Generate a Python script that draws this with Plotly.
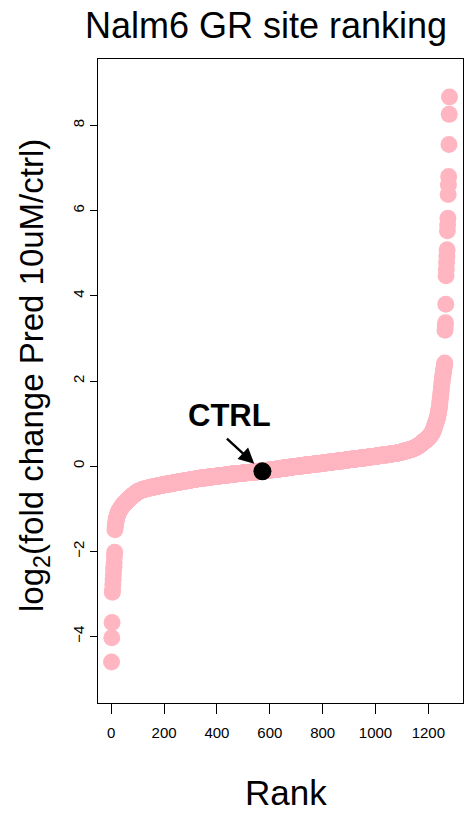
import plotly.graph_objects as go

# Sorted log2 fold changes (Pred 10uM / ctrl) of the Nalm6 GR sites, rank 1 = lowest
low_tail = [-4.60, -4.03, -3.67, -2.96, -2.90, -2.79, -2.66, -2.55, -2.44,
            -2.37, -2.26, -2.12, -2.02]
low_shoulder = [-1.49, -1.43, -1.38, -1.32, -1.29, -1.25, -1.22, -1.20, -1.18,
                -1.16, -1.14, -1.12, -1.10, -1.08, -1.07, -1.06, -1.05, -1.04,
                -1.03, -1.02, -1.01]

# Bulk of the sites binned at 0.01: number of sites at each value from -1.00 to 0.79
bulk_lfc = [round(-1.00 + 0.01 * i, 2) for i in range(180)]
bulk_sites = [
    1, 1, 1, 1, 1, 1, 1, 1, 1, 2, 1, 2, 1, 2, 1, 2, 1, 2, 2, 1, 2, 2, 1, 2, 2, 1, 2,
    2, 2, 2, 2, 2, 2, 2, 2, 2, 2, 2, 2, 3, 3, 3,
    4, 4, 5, 5, 5, 6, 6,
    7, 7, 7, 8, 8, 8, 8, 7,
    9, 9, 9, 9, 9, 9, 9, 9, 9, 9, 9, 9, 9, 9,
    12, 12, 12, 12, 13, 12, 13, 12, 13, 13,
    15, 15, 15, 15, 16, 15, 15, 16,
    12, 12, 12, 12, 12, 11, 12, 12, 11, 12, 11,
    13, 13, 13, 13, 13, 13, 13, 13, 13, 12,
    12, 13, 12, 13, 12, 12, 13, 12, 12, 13,
    12, 12, 12, 11, 12, 11, 12, 11, 11, 11, 11,
    7, 7, 6, 6, 6, 6, 6, 5, 5, 5, 4,
    4, 3, 3, 3, 3, 3, 2, 2, 2, 2, 2, 2, 2, 2, 2,
    2, 2, 2, 2, 2, 2, 2, 2, 1, 2, 1,
    2, 1, 2, 1, 1, 1, 2, 1, 1, 1, 1, 1,
]

high_shoulder = [0.80, 0.82, 0.83, 0.85, 0.87, 0.88, 0.90, 0.92, 0.94, 0.96,
                 0.98, 1.00, 1.02, 1.04, 1.06, 1.07, 1.09, 1.11, 1.13, 1.15,
                 1.18, 1.22, 1.25, 1.29, 1.32, 1.36, 1.40, 1.46, 1.52, 1.58,
                 1.63, 1.69, 1.75, 1.81, 1.87, 1.93, 1.98, 2.04, 2.08, 2.12,
                 2.17, 2.21, 2.25, 2.29, 2.34, 2.38, 2.42]
high_tail = [3.19, 3.28, 3.37, 3.80, 4.47, 4.62, 4.78, 4.93, 5.08, 5.53, 5.67,
             5.82, 6.38, 6.60, 6.80, 7.55, 8.26, 8.67]

ctrl_rank = 572
ctrl_lfc = -0.12

x_ticks = [0, 200, 400, 600, 800, 1000, 1200]
y_ticks = [-4, -2, 0, 2, 4, 6, 8]

# assemble the ranked values
lfc = list(low_tail) + list(low_shoulder)
for v, c in zip(bulk_lfc, bulk_sites):
    lfc += [v] * c
lfc += high_shoulder + high_tail
rank = list(range(1, len(lfc) + 1))

n = len(lfc)
pad_x = 0.04 * (n - 1)
x_range = [1 - pad_x, n + pad_x]
y_range = [-5.56, 9.56]

W, H = 466, 815
L, R, T, B = 98, 3, 59, 112
PW, PH = W - L - R, H - T - B


def px(xp, yp):
    """pixel position in the page -> paper coordinates"""
    return (xp - L) / PW, (H - B - yp) / PH


FONT = "Liberation Sans, Arial, Helvetica, sans-serif"

fig = go.Figure()
fig.add_trace(go.Scatter(
    x=rank, y=lfc, mode="markers",
    marker=dict(color="#FFB6C1", size=17, line=dict(width=0)),
    hoverinfo="skip", showlegend=False,
))
fig.add_trace(go.Scatter(
    x=[ctrl_rank], y=[ctrl_lfc], mode="markers",
    marker=dict(color="black", size=18, line=dict(width=0)),
    showlegend=False,
))

annotations = []
tx, ty = px(266, 26)
annotations.append(dict(text="Nalm6 GR site ranking", x=tx, y=ty, xref="paper", yref="paper",
                        showarrow=False, xanchor="center", yanchor="middle",
                        font=dict(family=FONT, size=36, color="black")))
lx, ly = px(34, 376)
annotations.append(dict(text="log<sub>2</sub>(fold change Pred 10uM/ctrl)", x=lx, y=ly,
                        xref="paper", yref="paper", textangle=-90, showarrow=False,
                        xanchor="center", yanchor="middle",
                        font=dict(family=FONT, size=33, color="black")))
rx, ry = px(286, 792)
annotations.append(dict(text="Rank", x=rx, y=ry, xref="paper", yref="paper",
                        showarrow=False, xanchor="center", yanchor="middle",
                        font=dict(family=FONT, size=35, color="black")))
cx, cy = px(229.5, 415)
annotations.append(dict(text="<b>CTRL</b>", x=cx, y=cy, xref="paper", yref="paper",
                        showarrow=False, xanchor="center", yanchor="middle",
                        font=dict(family=FONT, size=31, color="black")))
annotations.append(dict(text=" ", x=ctrl_rank, y=ctrl_lfc, xref="x", yref="y",
                        showarrow=True, ax=-37, ay=-34, standoff=11,
                        arrowhead=2, arrowsize=1.3, arrowwidth=2.4, arrowcolor="black",
                        font=dict(size=1)))

axis_common = dict(showgrid=False, zeroline=False, showline=True, mirror=True,
                   linecolor="black", linewidth=1, ticks="outside",
                   tickcolor="black", tickwidth=1,
                   tickfont=dict(family=FONT, size=15, color="black"))

fig.update_layout(
    width=W, height=H,
    margin=dict(l=L, r=R, t=T, b=B, pad=0),
    paper_bgcolor="white", plot_bgcolor="white",
    xaxis=dict(range=x_range, tickvals=x_ticks, ticklen=10, ticklabelstandoff=6,
               **axis_common),
    yaxis=dict(range=y_range, tickvals=y_ticks, ticklen=7, tickangle=-90,
               ticklabelstandoff=0, **axis_common),
    annotations=annotations,
    showlegend=False,
)

fig.write_html("out.html")
